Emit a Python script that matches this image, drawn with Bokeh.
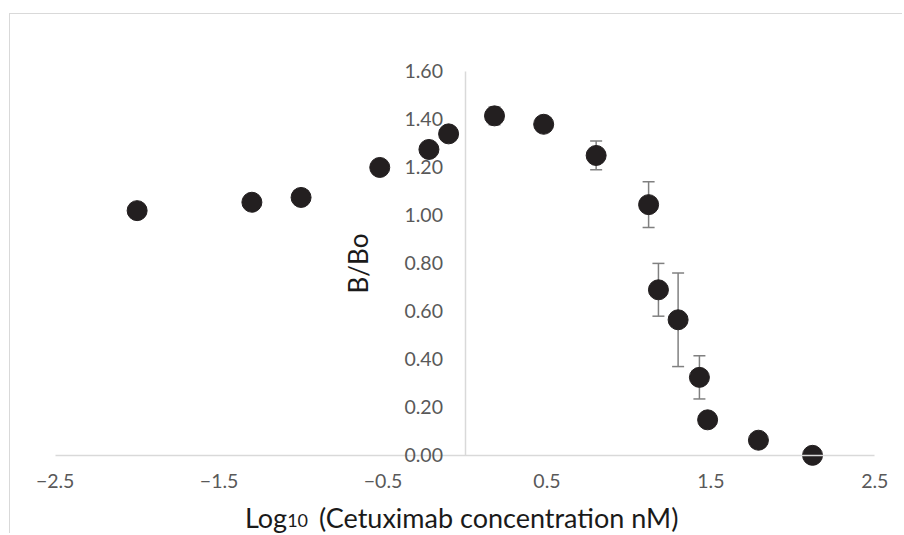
from bokeh.plotting import figure
from bokeh.models import (Range1d, FixedTicker, PrintfTickFormatter, ColumnDataSource,
                          Whisker, TeeHead, Label, InlineStyleSheet)
from bokeh.embed import file_html
from bokeh.resources import INLINE

# ---- data ----
log_conc = [-2.00, -1.30, -1.00, -0.52, -0.22, -0.10, 0.18, 0.48, 0.80, 1.12, 1.18, 1.30, 1.43, 1.48, 1.79, 2.12]
b_bo = [1.020, 1.055, 1.075, 1.200, 1.275, 1.340, 1.415, 1.380, 1.250, 1.045, 0.690, 0.565, 0.325, 0.148, 0.063, 0.000]
b_bo_err = [0.0, 0.0, 0.0, 0.0, 0.0, 0.0, 0.037, 0.0, 0.060, 0.095, 0.110, 0.195, 0.090, 0.030, 0.0, 0.0]
x_ticks = [-2.5, -1.5, -0.5, 0.5, 1.5, 2.5]
y_ticks = [0.0, 0.2, 0.4, 0.6, 0.8, 1.0, 1.2, 1.4, 1.6]
x_title_parts = ["Log", "10", "(Cetuximab concentration nM)"]
y_title = "B/Bo"

FONT = "Lato"
TICK_COLOR = "#595959"
AXIS_COLOR = "#d9d9d9"
TEXT_COLOR = "#1a1a1a"

border_css = InlineStyleSheet(css=":host { border-top: 1px solid #d9d9d9; border-left: 1px solid #d9d9d9; }")

p = figure(width=893, height=520,
           x_range=Range1d(-2.62, 2.62), y_range=Range1d(-0.33, 1.70),
           output_backend="svg", toolbar_location=None,
           min_border_left=25, min_border_right=9, min_border_top=33, min_border_bottom=0,
           margin=(13, 0, 0, 9), stylesheets=[border_css])
p.outline_line_color = None
p.xgrid.visible = False
p.ygrid.visible = False

for ax in (p.xaxis[0], p.yaxis[0]):
    ax.axis_line_color = AXIS_COLOR
    ax.axis_line_width = 1.5
    ax.major_tick_out = 0
    ax.major_tick_in = 0
    ax.minor_tick_out = 0
    ax.minor_tick_in = 0
    ax.major_label_text_font = FONT
    ax.major_label_text_font_size = "19.5px"
    ax.major_label_text_color = TICK_COLOR

p.xaxis.ticker = FixedTicker(ticks=x_ticks)
p.xaxis.fixed_location = 0
p.xaxis.bounds = (x_ticks[0], x_ticks[-1])
p.xaxis.major_label_standoff = 19

p.yaxis.ticker = FixedTicker(ticks=y_ticks)
p.yaxis.formatter = PrintfTickFormatter(format="%.2f")
p.yaxis.fixed_location = 0
p.yaxis.bounds = (y_ticks[0], y_ticks[-1])
p.yaxis.major_label_standoff = 22
p.yaxis.axis_label = y_title
p.yaxis.axis_label_text_font = FONT
p.yaxis.axis_label_text_font_size = "26px"
p.yaxis.axis_label_text_font_style = "normal"
p.yaxis.axis_label_text_color = TEXT_COLOR
p.yaxis.axis_label_standoff = 28

# error bars
ex = [x for x, e in zip(log_conc, b_bo_err) if e > 0]
ey = [y for y, e in zip(b_bo, b_bo_err) if e > 0]
ee = [e for e in b_bo_err if e > 0]
err_src = ColumnDataSource(data=dict(x=ex, upper=[y + e for y, e in zip(ey, ee)],
                                     lower=[y - e for y, e in zip(ey, ee)]))
w = Whisker(source=err_src, base="x", upper="upper", lower="lower", dimension="height",
            line_color="#808080", line_width=1.5,
            upper_head=TeeHead(size=12, line_color="#808080", line_width=1.5),
            lower_head=TeeHead(size=12, line_color="#808080", line_width=1.5))
w.level = "underlay"
p.add_layout(w)

src = ColumnDataSource(data=dict(x=log_conc, y=b_bo))
p.scatter("x", "y", source=src, size=20, fill_color="#231f20", line_color="#231f20")

# x axis title with subscript
p.add_layout(Label(x=-1.085, y=-0.258, text=x_title_parts[0], text_align="right",
                   text_baseline="alphabetic", text_font=FONT, text_font_size="27px",
                   text_color=TEXT_COLOR))
p.add_layout(Label(x=-1.085, y=-0.271, text=x_title_parts[1], text_align="left",
                   text_baseline="alphabetic", text_font=FONT, text_font_size="18px",
                   text_color=TEXT_COLOR))
p.add_layout(Label(x=-0.890, y=-0.258, text=x_title_parts[2], text_align="left",
                   text_baseline="alphabetic", text_font=FONT, text_font_size="27px",
                   text_color=TEXT_COLOR))

open("out.html", "w").write(file_html(p, INLINE))
